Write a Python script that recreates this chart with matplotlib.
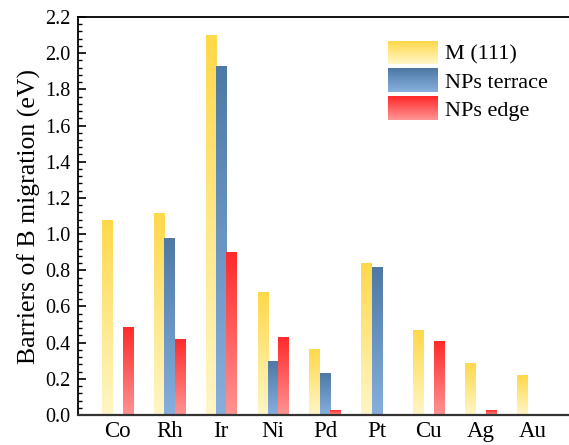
import numpy as np
import matplotlib
matplotlib.use("Agg")
import matplotlib.pyplot as plt
from matplotlib.colors import LinearSegmentedColormap, to_rgb
from matplotlib.legend_handler import HandlerBase
from matplotlib.patches import Rectangle
from matplotlib.ticker import MultipleLocator, FormatStrFormatter

plt.rcParams['font.family'] = ['Liberation Serif', 'DejaVu Serif']

metals = ["Co", "Rh", "Ir", "Ni", "Pd", "Pt", "Cu", "Ag", "Au"]
m111 = [1.075, 1.115, 2.10, 0.676, 0.363, 0.835, 0.466, 0.287, 0.221]
nps_terrace = [np.nan, 0.977, 1.924, 0.298, 0.228, 0.813, np.nan, np.nan, np.nan]
nps_edge = [0.485, 0.415, 0.901, 0.426, 0.024, np.nan, 0.407, 0.024, np.nan]
series_names = ["M (111)", "NPs terrace", "NPs edge"]
series_values = [m111, nps_terrace, nps_edge]
# (top colour, bottom colour)
series_colors = [("#FFD84A", "#FFF6C6"), ("#4E79A5", "#86AFDD"), ("#FF2A2A", "#FF9393")]

fig = plt.figure(figsize=(5.69, 4.45), dpi=100)
ax = fig.add_axes([78/569, 30/445, 1 - 78/569, 398/445])

x = np.arange(len(metals))
w = 0.2
offsets = [-w, 0, w]

for vals, (ctop, cbot), off in zip(series_values, series_colors, offsets):
    cmap = LinearSegmentedColormap.from_list("g", [cbot, ctop])
    grad = np.linspace(0, 1, 256).reshape(-1, 1)
    for xi, v in zip(x, vals):
        if np.isnan(v):
            continue
        ax.imshow(grad, cmap=cmap, extent=[xi + off - w/2, xi + off + w/2, 0, v],
                  aspect='auto', origin='lower', zorder=2, interpolation='bilinear')
    ax.bar(x + off, np.nan_to_num(vals), width=w, facecolor='none',
           edgecolor='none', linewidth=0, zorder=3)

ax.set_xlim(-0.76, 8.7)
ax.set_ylim(0, 2.2)
ax.set_xticks(x)
ax.set_xticklabels(metals, fontsize=16.5)
ax.tick_params(axis='x', length=0, pad=4)
ax.yaxis.set_major_locator(MultipleLocator(0.2))
ax.yaxis.set_minor_locator(MultipleLocator(0.04))
ax.yaxis.set_major_formatter(FormatStrFormatter('%.1f'))
ax.tick_params(axis='y', which='major', direction='in', length=6, width=1.2, labelsize=14.5, pad=5.5)
ax.tick_params(axis='y', which='minor', direction='in', length=3, width=1.0)
ax.set_ylabel("Barriers of B migration (eV)", fontsize=18.5, labelpad=3)

ax.spines['right'].set_visible(False)
ax.spines['left'].set_linewidth(1.3)
ax.spines['top'].set_linewidth(1.3)
ax.spines['bottom'].set_linewidth(1.6)
ax.spines['bottom'].set_color('#333333')


class GradientHandler(HandlerBase):
    def __init__(self, ctop, cbot, n=40):
        super().__init__()
        self.ctop = np.array(to_rgb(ctop))
        self.cbot = np.array(to_rgb(cbot))
        self.n = n

    def create_artists(self, legend, orig_handle, xdescent, ydescent, width, height, fontsize, trans):
        arts = []
        for i in range(self.n):
            t = i / (self.n - 1)
            c = self.cbot * (1 - t) + self.ctop * t
            r = Rectangle((-xdescent, -ydescent + height * i / self.n), width, height / self.n + 0.3,
                          facecolor=c, edgecolor='none', transform=trans)
            arts.append(r)
        return arts


handles = [Rectangle((0, 0), 1, 1) for _ in series_names]
hmap = {h: GradientHandler(ct, cb) for h, (ct, cb) in zip(handles, series_colors)}
ax.legend(handles, series_names, handler_map=hmap, loc='upper left',
          bbox_to_anchor=(388/569, 1 - 41/445), bbox_transform=fig.transFigure,
          frameon=False, fontsize=16, handlelength=2.25, handleheight=1.2,
          handletextpad=0.32, labelspacing=0.18, borderpad=0, borderaxespad=0)

fig.savefig("out.png", dpi=100)
